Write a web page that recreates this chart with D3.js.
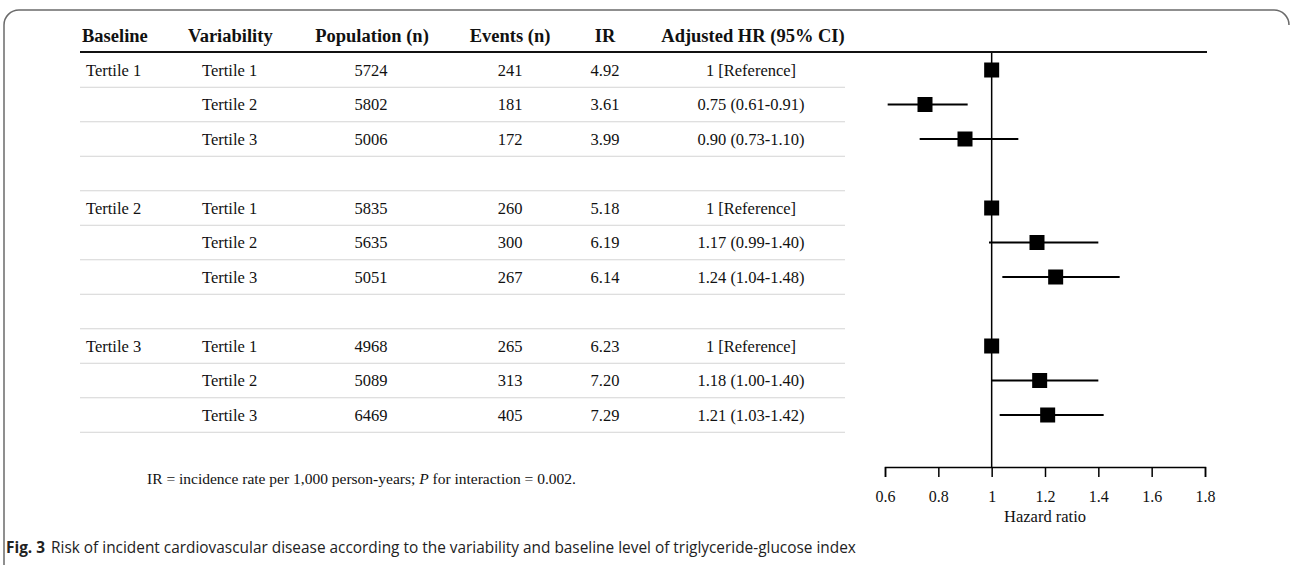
<!DOCTYPE html>
<html>
<head>
<meta charset="utf-8">
<script src="https://cdn.jsdelivr.net/npm/d3@7"></script>
<style>
  body { margin: 0; background: #fff; }
  svg { display: block; }
</style>
</head>
<body>
<svg width="1290" height="565"></svg>
<script>
// table rows (null = spacer row between baseline groups)
var baseline    = ["Tertile 1", "", "", null, "Tertile 2", "", "", null, "Tertile 3", "", ""];
var variability = ["Tertile 1", "Tertile 2", "Tertile 3", null, "Tertile 1", "Tertile 2", "Tertile 3", null, "Tertile 1", "Tertile 2", "Tertile 3"];
var population  = [5724, 5802, 5006, null, 5835, 5635, 5051, null, 4968, 5089, 6469];
var events      = [241, 181, 172, null, 260, 300, 267, null, 265, 313, 405];
var ir          = ["4.92", "3.61", "3.99", null, "5.18", "6.19", "6.14", null, "6.23", "7.20", "7.29"];
var hr          = [1, 0.75, 0.90, null, 1, 1.17, 1.24, null, 1, 1.18, 1.21];
var lower       = [null, 0.61, 0.73, null, null, 0.99, 1.04, null, null, 1.00, 1.03];
var upper       = [null, 0.91, 1.10, null, null, 1.40, 1.48, null, null, 1.40, 1.42];
var headers     = ["Baseline", "Variability", "Population (n)", "Events (n)", "IR", "Adjusted HR (95% CI)"];
var xTicks      = [0.6, 0.8, 1, 1.2, 1.4, 1.6, 1.8];

var svg = d3.select("svg");
var serif = "'Liberation Serif', 'Times New Roman', serif";
var sans = "'Open Sans', 'Noto Sans', sans-serif";

// figure frame (rounded top corners, open at the bottom)
svg.append("path")
  .attr("d", "M4,565 V25 A15,15 0 0 1 19,10 H1274 A15,15 0 0 1 1289,25")
  .attr("fill", "none")
  .attr("stroke", "#6b6b6b")
  .attr("stroke-width", 1.5);

var rowY = d3.scaleLinear().domain([0, 1]).range([70, 104.5]);
var rows = d3.range(baseline.length);

var fmtHR = d3.format(".2f");
function hrText(i) {
  if (hr[i] == null) return "";
  if (lower[i] == null) return "1 [Reference]";
  return fmtHR(hr[i]) + " (" + fmtHR(lower[i]) + "-" + fmtHR(upper[i]) + ")";
}

var cols = [
  { x: 86,  anchor: "start",  get: function(i) { return baseline[i]; } },
  { x: 202, anchor: "start",  get: function(i) { return variability[i]; } },
  { x: 371, anchor: "middle", get: function(i) { return population[i]; } },
  { x: 510, anchor: "middle", get: function(i) { return events[i]; } },
  { x: 605, anchor: "middle", get: function(i) { return ir[i]; } },
  { x: 751, anchor: "middle", get: function(i) { return hrText(i); } }
];
var headCols = [
  { x: 82,  anchor: "start" },
  { x: 188, anchor: "start" },
  { x: 372, anchor: "middle" },
  { x: 510, anchor: "middle" },
  { x: 605, anchor: "middle" },
  { x: 753, anchor: "middle" }
];

// header
svg.append("g")
  .attr("font-family", serif)
  .attr("font-weight", "bold")
  .attr("font-size", 18.5)
  .selectAll("text")
  .data(headers)
  .enter().append("text")
  .attr("x", function(d, i) { return headCols[i].x; })
  .attr("y", 42)
  .attr("text-anchor", function(d, i) { return headCols[i].anchor; })
  .attr("fill", "#111")
  .text(function(d) { return d; });

// thin row separators
svg.append("g")
  .selectAll("line")
  .data(rows)
  .enter().append("line")
  .attr("x1", 80).attr("x2", 845)
  .attr("y1", function(i) { return rowY(i) + 17.25; })
  .attr("y2", function(i) { return rowY(i) + 17.25; })
  .attr("stroke", "#d4d4d4")
  .attr("stroke-width", 1);

// cells
var cells = svg.append("g")
  .attr("font-family", serif)
  .attr("font-size", 16.5)
  .attr("fill", "#111");

cols.forEach(function(c) {
  cells.append("g")
    .selectAll("text")
    .data(rows.filter(function(i) { return c.get(i) != null && c.get(i) !== ""; }))
    .enter().append("text")
    .attr("x", c.x)
    .attr("y", function(i) { return rowY(i); })
    .attr("dy", "0.35em")
    .attr("text-anchor", c.anchor)
    .text(function(i) { return c.get(i); });
});

// forest plot
var x = d3.scaleLinear().domain([0.6, 1.8]).range([885, 1205]);
var axisY = 467;

svg.append("line")
  .attr("x1", x(1)).attr("x2", x(1))
  .attr("y1", 52).attr("y2", axisY)
  .attr("stroke", "#000")
  .attr("stroke-width", 1.5);

var est = rows.filter(function(i) { return hr[i] != null; });

svg.append("g")
  .selectAll("line")
  .data(est.filter(function(i) { return lower[i] != null; }))
  .enter().append("line")
  .attr("x1", function(i) { return x(lower[i]); })
  .attr("x2", function(i) { return x(upper[i]); })
  .attr("y1", function(i) { return rowY(i); })
  .attr("y2", function(i) { return rowY(i); })
  .attr("stroke", "#000")
  .attr("stroke-width", 2);

svg.append("g")
  .selectAll("rect")
  .data(est)
  .enter().append("rect")
  .attr("x", function(i) { return x(hr[i]) - 7.5; })
  .attr("y", function(i) { return rowY(i) - 7.5; })
  .attr("width", 15)
  .attr("height", 15)
  .attr("fill", "#000");

// header rule across table and plot
svg.append("line")
  .attr("x1", 80).attr("x2", 1207)
  .attr("y1", 52).attr("y2", 52)
  .attr("stroke", "#111")
  .attr("stroke-width", 2);

var axis = svg.append("g")
  .attr("transform", "translate(0," + axisY + ")")
  .call(d3.axisBottom(x).tickValues(xTicks).tickSize(10).tickPadding(14).tickFormat(d3.format("")));
axis.select(".domain").attr("stroke", "#000").attr("stroke-width", 1.5);
axis.selectAll(".tick line").attr("stroke", "#000").attr("stroke-width", 1.5);
axis.selectAll(".tick text")
  .attr("font-family", serif)
  .attr("font-size", 16)
  .attr("fill", "#111");

svg.append("text")
  .attr("x", 1045).attr("y", 522)
  .attr("text-anchor", "middle")
  .attr("font-family", serif)
  .attr("font-size", 16.5)
  .attr("fill", "#111")
  .text("Hazard ratio");

// footnote
var note = svg.append("text")
  .attr("x", 147).attr("y", 484)
  .attr("font-family", serif)
  .attr("font-size", 15.5)
  .attr("fill", "#111");
note.append("tspan").text("IR = incidence rate per 1,000 person-years; ");
note.append("tspan").attr("font-style", "italic").text("P");
note.append("tspan").text(" for interaction = 0.002.");

// caption
var cap = svg.append("text")
  .attr("x", 6).attr("y", 553)
  .attr("font-family", sans)
  .attr("font-size", 15.4)
  .attr("fill", "#222");
cap.append("tspan").attr("font-weight", "bold").text("Fig. 3");
cap.append("tspan").attr("dx", 6).text("Risk of incident cardiovascular disease according to the variability and baseline level of triglyceride-glucose index");
</script>
</body>
</html>
